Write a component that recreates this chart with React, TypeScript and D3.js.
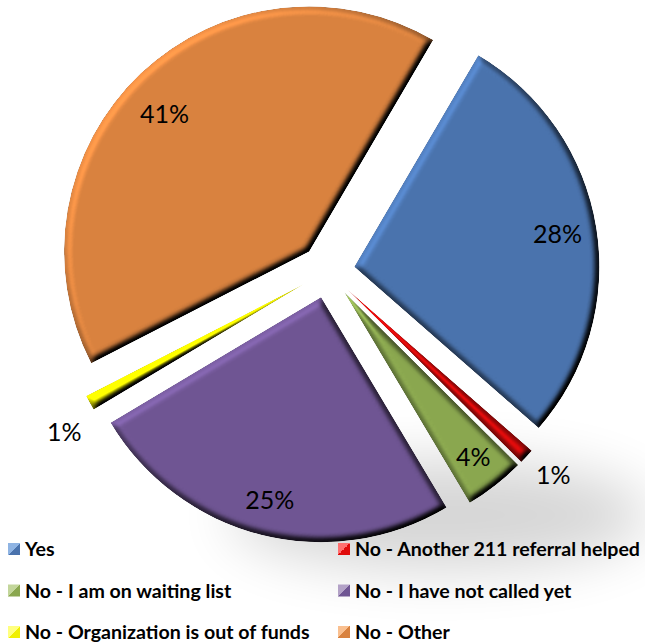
import React from 'react';
import * as d3 from 'd3';

const categories = [
  'Yes',
  'No - Another 211 referral helped',
  'No - I am on waiting list',
  'No - I have not called yet',
  'No - Organization is out of funds',
  'No - Other',
];
const values = [28, 1, 4, 25, 1, 41];
const valueLabels = ['28%', '1%', '4%', '25%', '1%', '41%'];
const colors = ['#4a73ad', '#e00b0b', '#8aa74f', '#6f5593', '#f0f000', '#d9823f'];
const lightColors = ['#8fb4e3', '#ff7070', '#c3d69b', '#b3a2c7', '#ffff80', '#fac090'];
// label placement: radius as fraction of R (from exploded apex), angular nudge in degrees
const labelRadius = [0.84, 1.13, 0.855, 0.855, 1.15, 0.815];
const labelNudge = [0, -1, 0, 0, -2.7, -3];

const W = 645;
const H = 643;
const cx = 327.7;
const cy = 271;
const R = 245;
const explode = 27;
const startDeg = 30.4;

export default function App() {
  const start = (startDeg * Math.PI) / 180;
  const pie = d3
    .pie<number>()
    .sort(null)
    .value((d) => d)
    .startAngle(start)
    .endAngle(start + 2 * Math.PI);
  const arcs = pie(values);
  const arc = d3.arc<d3.PieArcDatum<number>>().innerRadius(0).outerRadius(R);
  const elev = 55;
  const k1 = 1 / Math.sin((elev * Math.PI) / 180);

  return (
    <svg
      width={W}
      height={H}
      style={{ position: 'absolute', left: 0, top: 0, background: '#fff' }}
      fontFamily="Lato, 'Open Sans', sans-serif"
    >
      <defs>
        <filter id="bevel" x="-10%" y="-10%" width="120%" height="120%" colorInterpolationFilters="sRGB">
          <feGaussianBlur in="SourceAlpha" stdDeviation="3.5" result="blur" />
          <feDiffuseLighting in="blur" surfaceScale="7" diffuseConstant="1" lightingColor="#ffffff" result="light">
            <feDistantLight azimuth="225" elevation={elev} />
          </feDiffuseLighting>
          <feComposite in="SourceGraphic" in2="light" operator="arithmetic" k1={k1} k2="0" k3="0" k4="0" result="lit" />
          <feComposite in="lit" in2="SourceAlpha" operator="in" />
        </filter>
        <filter id="soft" x="-50%" y="-50%" width="200%" height="200%">
          <feGaussianBlur stdDeviation="28" />
        </filter>
        {colors.map((c, i) => (
          <linearGradient key={i} id={`lg${i}`} x1="0" y1="0" x2="1" y2="1">
            <stop offset="0.5" stopColor={lightColors[i]} />
            <stop offset="0.5" stopColor={c} />
          </linearGradient>
        ))}
      </defs>

      <ellipse cx={440} cy={515} rx={210} ry={55} fill="#000" opacity={0.16} filter="url(#soft)" />

      {arcs.map((a, i) => {
        const mid = (a.startAngle + a.endAngle) / 2;
        const dx = explode * Math.sin(mid);
        const dy = -explode * Math.cos(mid);
        return (
          <g key={i} transform={`translate(${cx + dx},${cy + dy})`}>
            <path d={arc(a) || ''} fill={colors[i]} filter="url(#bevel)" />
          </g>
        );
      })}

      {arcs.map((a, i) => {
        const mid = (a.startAngle + a.endAngle) / 2;
        const ax = cx + explode * Math.sin(mid);
        const ay = cy - explode * Math.cos(mid);
        const ang = mid + (labelNudge[i] * Math.PI) / 180;
        const r = R * labelRadius[i];
        const x = ax + r * Math.sin(ang);
        const y = ay - r * Math.cos(ang);
        return (
          <text key={i} x={x} y={y} dy="0.36em" textAnchor="middle" fontSize={25} fill="#000">
            {valueLabels[i]}
          </text>
        );
      })}

      {categories.map((c, i) => {
        const col = i % 2;
        const row = Math.floor(i / 2);
        const x = col === 0 ? 8 : 338;
        const y = 549 + row * 41.5;
        return (
          <g key={i}>
            <rect x={x} y={y - 6} width={12} height={12} fill={`url(#lg${i})`} />
            <text x={x + 17} y={y} dy="0.36em" fontSize={19.6} fontWeight="bold" fill="#000">
              {c}
            </text>
          </g>
        );
      })}
    </svg>
  );
}
